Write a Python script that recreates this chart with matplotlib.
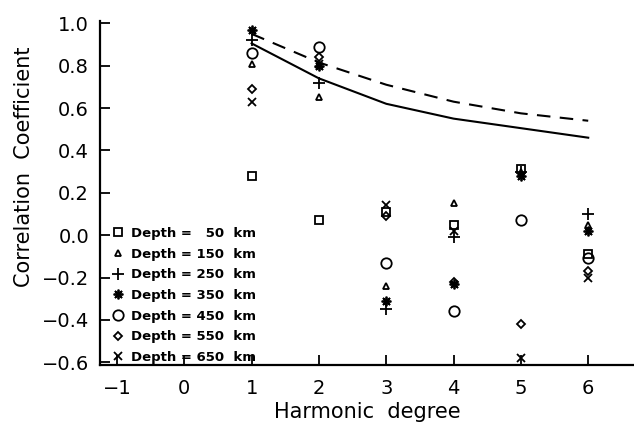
import numpy as np
import matplotlib
matplotlib.use('Agg')
import matplotlib.pyplot as plt

plt.rcParams['font.family'] = ['DejaVu Sans']

# Исходные данные
degrees = [1, 2, 3, 4, 5, 6]
depths = [50, 150, 250, 350, 450, 550, 650]
corr = {
    50:  [0.28, 0.07, 0.11, 0.05, 0.31, -0.09],
    150: [0.81, 0.65, -0.24, 0.15, 0.30, 0.05],
    250: [0.92, 0.72, -0.35, -0.01, 0.30, 0.10],
    350: [0.97, 0.80, -0.31, -0.23, 0.28, 0.02],
    450: [0.86, 0.89, -0.13, -0.36, 0.07, -0.11],
    550: [0.69, 0.84, 0.09, -0.22, -0.42, -0.17],
    650: [0.63, 0.81, 0.14, 0.02, -0.58, -0.20],
}
solid_curve = [0.905, 0.74, 0.62, 0.55, 0.505, 0.46]
dashed_curve = [0.95, 0.815, 0.71, 0.63, 0.575, 0.54]

markers = {50: 's', 150: '^', 250: '+', 350: (8, 2, 0), 450: 'o', 550: 'D', 650: 'x'}
msizes = {50: 6, 150: 5, 250: 8, 350: 7, 450: 7.5, 550: 4.5, 650: 6}

fig = plt.figure(figsize=(6.34, 4.32), dpi=100)
ax = fig.add_axes([0.158, 0.155, 0.842, 0.796])

ax.plot(degrees, solid_curve, color='black', lw=1.5)
ax.plot(degrees, dashed_curve, color='black', lw=1.5, dashes=(6.5, 4.5))

for d in depths:
    label = 'Depth = ' + str(d).rjust(3, '\u2007') + '  km'
    ax.plot(degrees, corr[d], linestyle='none', marker=markers[d], ms=msizes[d],
            mfc='none', mec='black', mew=1.3, label=label)

ax.set_xlim(-1.25, 6.68)
ax.set_ylim(-0.613, 1.01)
ax.set_xticks(range(-1, 7))
ax.set_xticklabels(['\u22121', '0', '1', '2', '3', '4', '5', '6'])
ax.set_yticks(np.arange(-0.6, 1.01, 0.2))
ax.set_yticklabels(['\u22120.6', '\u22120.4', '\u22120.2', '0.0', '0.2', '0.4', '0.6', '0.8', '1.0'])
ax.tick_params(axis='x', direction='in', length=7, width=1.3, labelsize=14, pad=10)
ax.tick_params(axis='y', direction='in', length=7, width=1.3, labelsize=14, pad=8)
for s in ['top', 'right']:
    ax.spines[s].set_visible(False)
for s in ['left', 'bottom']:
    ax.spines[s].set_linewidth(1.6)

ax.set_xlabel('Harmonic  degree', fontsize=15, labelpad=3)
ax.set_ylabel('Correlation  Coefficient', fontsize=15)
ax.yaxis.set_label_coords(-0.124, 0.578)

ax.legend(loc='lower left', bbox_to_anchor=(0.011, -0.012), frameon=False,
          handlelength=1.0, handletextpad=0.5, labelspacing=0.58,
          borderaxespad=0.1, borderpad=0.3, prop={'weight': 'bold', 'size': 9.5})

fig.savefig('out.png', dpi=100)
